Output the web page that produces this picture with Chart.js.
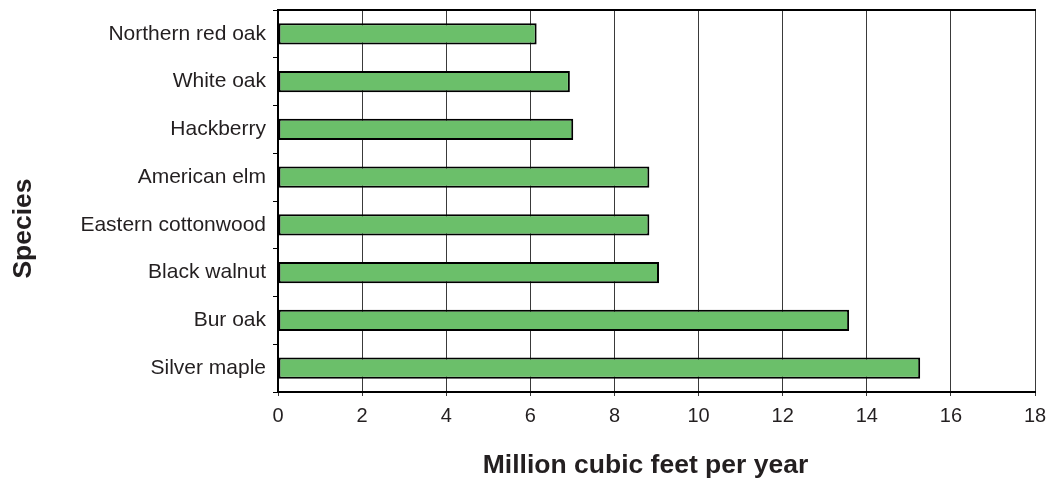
<!DOCTYPE html>
<html>
<head>
<meta charset="utf-8">
<script src="https://cdn.jsdelivr.net/npm/chart.js@4/dist/chart.umd.min.js"></script>
<style>
  html, body { margin: 0; padding: 0; background: #ffffff; }
  #wrap { width: 1060px; height: 483px; }
</style>
</head>
<body>
<div id="wrap"><canvas id="c" width="1060" height="483"></canvas></div>
<script>
const categories = ["Northern red oak", "White oak", "Hackberry", "American elm", "Eastern cottonwood", "Black walnut", "Bur oak", "Silver maple"];
const volumes = [6.15, 6.94, 7.02, 8.83, 8.83, 9.06, 13.58, 15.27];
const xTitle = "Million cubic feet per year";
const yTitle = "Species";
const xMin = 0, xMax = 18, xStep = 2;

const FONT = "'Liberation Sans', Arial, Helvetica, sans-serif";
const TEXT = '#231f20';

const decor = {
  id: 'decor',
  afterDraw(chart) {
    const {ctx, chartArea} = chart;
    ctx.save();
    // top frame line
    ctx.strokeStyle = '#000';
    ctx.lineWidth = 2;
    ctx.beginPath();
    ctx.moveTo(chartArea.left - 1, chartArea.top);
    ctx.lineTo(chartArea.right + 1, chartArea.top);
    ctx.stroke();
    // axis titles
    ctx.fillStyle = TEXT;
    ctx.font = "bold 26.5px " + FONT;
    ctx.textAlign = 'center';
    ctx.textBaseline = 'alphabetic';
    ctx.fillText(chart.options.scales.x.title.text, 645.5, 472.5);
    ctx.translate(31, 228.5);
    ctx.rotate(-Math.PI / 2);
    ctx.fillText(chart.options.scales.y.title.text, 0, 0);
    ctx.restore();
  }
};

new Chart(document.getElementById('c'), {
  type: 'bar',
  data: {
    labels: categories,
    datasets: [{
      data: volumes,
      backgroundColor: '#6BBF6A',
      borderColor: '#000000',
      borderWidth: 2,
      borderSkipped: false,
      categoryPercentage: 1,
      barPercentage: 0.45
    }]
  },
  options: {
    indexAxis: 'y',
    responsive: false,
    animation: false,
    devicePixelRatio: 1,
    layout: { padding: { left: 0, right: 25, top: 10, bottom: 0 } },
    plugins: { legend: { display: false }, tooltip: { enabled: false } },
    scales: {
      x: {
        type: 'linear',
        min: xMin, max: xMax,
        ticks: { stepSize: xStep, color: TEXT, font: { family: FONT, size: 20 }, padding: 8 },
        grid: { color: '#3a3a3a', lineWidth: 1, tickLength: 4, tickColor: '#3a3a3a' },
        border: { display: true, color: '#000', width: 2 },
        title: { display: false, text: xTitle },
        afterFit(scale) { scale.height = 483 - 392; scale.paddingLeft = 0; scale.paddingRight = 0; }
      },
      y: {
        type: 'category',
        ticks: { color: TEXT, font: { family: FONT, size: 21 }, padding: 7 },
        grid: { display: true, drawOnChartArea: false, drawTicks: true, tickLength: 5, color: '#000', tickColor: '#000', lineWidth: 1 },
        border: { display: true, color: '#000', width: 2 },
        title: { display: false, text: yTitle },
        afterFit(scale) { scale.width = 278; scale.paddingTop = 0; scale.paddingBottom = 0; }
      }
    }
  },
  plugins: [decor]
});
</script>
</body>
</html>
